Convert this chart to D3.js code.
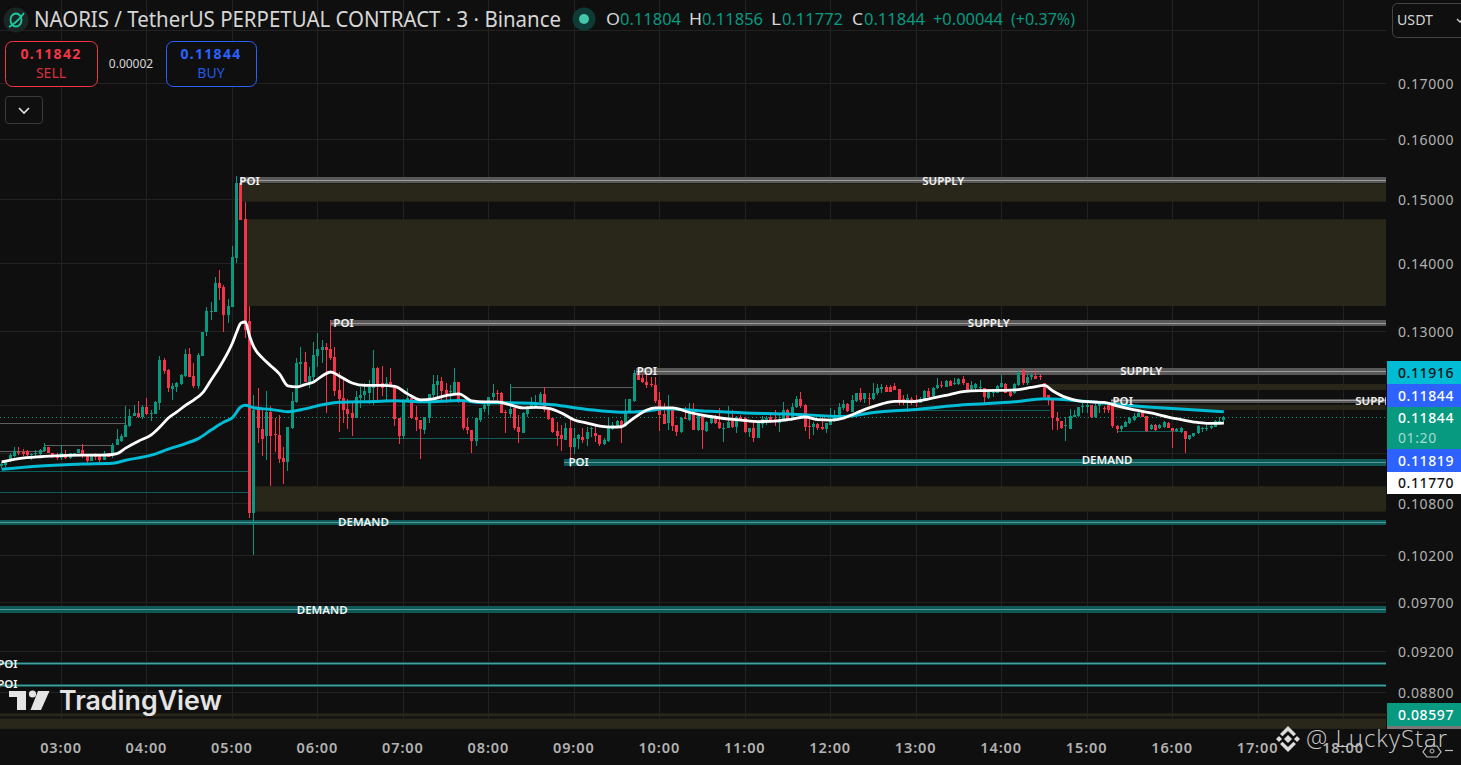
<!DOCTYPE html>
<html><head><meta charset="utf-8">
<script src="https://cdn.jsdelivr.net/npm/d3@7/dist/d3.min.js"></script>
<style>
html,body{margin:0;padding:0;background:#0f0f0f;overflow:hidden}
svg{display:block}
text{font-family:"Noto Sans",sans-serif}
</style></head><body>
<svg id="chart" width="1461" height="765"></svg>
<script>
// ---------- candle values (3 minute bars starting 02:18) ----------
const opens=[.11233,.11245,.11294,.11359,.11409,.11409,.11414,.11376,.11389,.11380,
.11421,.11463,.11401,.11376,.11331,.11380,.11335,.11389,.11389,.11438,
.11359,.11298,.11364,.11364,.11315,.11389,.11356,.11496,.11546,.11596,
.11731,.11860,.11895,.11843,.11974,.11890,.11886,.12034,.12601,.12465,
.12208,.12243,.12274,.12385,.12684,.12385,.12252,.12660,.12984,.13272,
.13272,.13695,.13636,.13229,.13348,.14069,.15258,.14671,.13143,.10683,
.11938,.11693,.11605,.11912,.11630,.11617,.11331,.11282,.11706,.12043,
.12547,.12574,.12305,.12371,.12656,.12738,.12780,.12752,.12642,.12199,
.12095,.11952,.11899,.11834,.12095,.12134,.12160,.12225,.12492,.12291,
.12278,.12305,.12265,.11834,.11605,.12043,.12095,.11847,.11808,.11681,
.11834,.12134,.12265,.12318,.12199,.12173,.12160,.12305,.12043,.11719,
.11681,.11542,.11808,.11952,.11991,.12108,.12160,.12160,.11912,.11886,
.11965,.11719,.11642,.11886,.11978,.11991,.12043,.12147,.11952,.11834,
.11668,.11617,.11555,.11706,.11467,.11567,.11592,.11567,.11693,.11642,
.11617,.11505,.11542,.11693,.11719,.11795,.11731,.11899,.12056,.12425,
.12358,.12305,.12278,.12265,.12069,.11886,.11770,.11965,.11744,.11655,
.11834,.11808,.11925,.11681,.11873,.11668,.11770,.11821,.11783,.11700,
.11706,.11795,.11719,.11847,.11834,.11655,.11706,.11580,.11757,.11808,
.11847,.11821,.11770,.11808,.11938,.11821,.11978,.12082,.12004,.11731,
.11719,.11757,.11719,.11693,.11744,.11808,.11873,.11965,.12017,.11912,
.12056,.12160,.12082,.12095,.12082,.12160,.12212,.12239,.12239,.12252,
.12212,.12082,.12030,.12082,.12069,.12030,.12082,.12186,.12121,.12225,
.12265,.12239,.12318,.12278,.12278,.12344,.12291,.12212,.12225,.12225,
.12225,.12095,.12160,.12160,.12239,.12278,.12173,.12160,.12265,.12465,
.12291,.12371,.12385,.12385,.12291,.12134,.12095,.11834,.11795,.11731,
.11693,.11847,.11860,.11978,.11978,.12004,.11847,.11991,.11965,.12004,
.12004,.11731,.11693,.11719,.11770,.11808,.11847,.11912,.11860,.11693,
.11744,.11706,.11719,.11770,.11706,.11668,.11655,.11668,.11567,.11605,
.11642,.11693,.11693,.11706,.11719,.11783,.11804];
const highs=[.11290,.11315,.11396,.11463,.11463,.11446,.11430,.11389,.11430,.11446,
.11514,.11463,.11401,.11389,.11488,.11438,.11389,.11396,.11442,.11505,
.11376,.11364,.11389,.11364,.11421,.11389,.11521,.11690,.11630,.11991,
.11948,.12004,.12056,.12004,.12091,.11938,.12056,.12656,.12625,.12474,
.12287,.12309,.12407,.12748,.12762,.12556,.12693,.12988,.13348,.13416,
.13788,.13888,.13665,.13460,.14253,.15374,.15258,.14948,.13358,.12134,
.12225,.11965,.12186,.11991,.11834,.11873,.11467,.11719,.12173,.12629,
.12780,.12711,.12506,.12848,.12974,.12876,.12835,.13158,.12780,.12438,
.12371,.12082,.12030,.12186,.12239,.12291,.12331,.12738,.12506,.12520,
.12371,.12492,.12265,.11834,.12082,.12225,.12095,.11991,.11808,.11847,
.12147,.12398,.12398,.12371,.12291,.12265,.12492,.12305,.12043,.11834,
.11681,.11834,.11965,.12030,.12108,.12278,.12199,.12173,.11938,.12278,
.11965,.11873,.11912,.11991,.12108,.12134,.12173,.12239,.11952,.11834,
.11783,.11744,.11770,.11821,.11706,.11630,.11706,.11719,.11719,.11731,
.11617,.11580,.11834,.11783,.11808,.11808,.12082,.12082,.12465,.12492,
.12425,.12398,.12371,.12371,.12173,.12030,.12134,.11978,.11744,.11847,
.11978,.12030,.12030,.11873,.11873,.11795,.11873,.11873,.11965,.11770,
.11991,.11938,.11860,.11873,.11847,.11706,.11795,.11770,.11860,.11860,
.11912,.11938,.11873,.12043,.11952,.12030,.12121,.12173,.12017,.11847,
.11783,.11770,.11847,.11770,.11965,.11938,.12030,.12069,.12030,.12134,
.12160,.12225,.12160,.12160,.12291,.12278,.12278,.12265,.12265,.12291,
.12212,.12134,.12147,.12108,.12134,.12108,.12199,.12225,.12239,.12358,
.12318,.12331,.12331,.12358,.12358,.12385,.12291,.12318,.12291,.12331,
.12225,.12173,.12199,.12265,.12398,.12291,.12186,.12291,.12465,.12479,
.12425,.12425,.12465,.12412,.12291,.12134,.12095,.11912,.11795,.11847,
.11952,.11938,.11978,.12043,.12069,.12004,.12030,.12030,.11991,.12030,
.12004,.11744,.11744,.11795,.11847,.11899,.11912,.11938,.11860,.11757,
.11757,.11757,.11795,.11783,.11706,.11706,.11719,.11668,.11617,.11642,
.11744,.11719,.11744,.11744,.11808,.11847,.11856];
const lows=[.11217,.11225,.11285,.11347,.11368,.11356,.11356,.11315,.11347,.11368,
.11409,.11389,.11339,.11315,.11315,.11327,.11327,.11389,.11389,.11339,
.11257,.11298,.11315,.11257,.11306,.11347,.11339,.11488,.11534,.11589,
.11715,.11860,.11830,.11825,.11877,.11799,.11882,.11938,.12412,.12177,
.12069,.12177,.12265,.12367,.12367,.12221,.12216,.12656,.12932,.13158,
.13272,.13445,.12988,.13115,.13340,.13998,.14660,.12904,.10625,.10205,
.11517,.11356,.11306,.10992,.11405,.11270,.11016,.11172,.11693,.12030,
.12252,.12305,.12225,.12305,.12506,.12561,.11899,.12601,.12121,.11655,
.11770,.11693,.11605,.11834,.11965,.12069,.12017,.12004,.12056,.12121,
.12069,.12239,.11731,.11505,.11567,.12043,.11821,.11668,.11319,.11630,
.11770,.12108,.12108,.12069,.12030,.12069,.12160,.12030,.11681,.11630,
.11393,.11480,.11783,.11912,.11873,.12069,.12069,.11899,.11642,.11834,
.11681,.11517,.11642,.11847,.11965,.11965,.12030,.11912,.11808,.11642,
.11480,.11417,.11555,.11221,.11380,.11442,.11517,.11480,.11592,.11530,
.11480,.11492,.11530,.11681,.11706,.11517,.11719,.11899,.12043,.12331,
.12291,.12225,.12239,.12030,.11668,.11757,.11681,.11668,.11605,.11642,
.11821,.11795,.11681,.11668,.11442,.11655,.11757,.11757,.11693,.11530,
.11706,.11706,.11642,.11795,.11642,.11592,.11530,.11580,.11706,.11744,
.11770,.11731,.11655,.11795,.11821,.11808,.11965,.11965,.11668,.11567,
.11617,.11681,.11681,.11642,.11744,.11783,.11873,.11938,.11912,.11912,
.12043,.12043,.12030,.12004,.12069,.12134,.12160,.12173,.12173,.12199,
.12004,.12004,.11912,.12004,.11978,.12030,.12069,.12108,.12108,.12212,
.12225,.12239,.12252,.12265,.12265,.12265,.12173,.12199,.12199,.12199,
.12030,.12082,.12108,.12160,.12225,.12160,.12108,.12147,.12252,.12265,
.12265,.12331,.12344,.12331,.12095,.12004,.11681,.11681,.11693,.11542,
.11693,.11847,.11847,.11899,.11899,.11834,.11834,.11899,.11899,.11899,
.11706,.11642,.11655,.11719,.11757,.11795,.11847,.11847,.11655,.11681,
.11668,.11693,.11706,.11706,.11455,.11655,.11642,.11393,.11555,.11592,
.11630,.11655,.11668,.11693,.11719,.11770,.11772];
const closes=[.11266,.11298,.11368,.11417,.11389,.11380,.11368,.11384,.11396,.11438,
.11463,.11389,.11356,.11335,.11389,.11339,.11389,.11396,.11442,.11356,
.11298,.11364,.11347,.11315,.11389,.11347,.11496,.11567,.11605,.11748,
.11860,.11895,.11843,.11974,.11886,.11895,.12043,.12601,.12452,.12230,
.12252,.12295,.12398,.12684,.12375,.12252,.12670,.12984,.13291,.13287,
.13699,.13625,.13229,.13358,.14080,.15253,.14660,.13016,.10683,.11938,
.11706,.11567,.11912,.11605,.11623,.11319,.11282,.11719,.12056,.12561,
.12574,.12305,.12385,.12670,.12752,.12780,.12738,.12629,.12186,.12082,
.11938,.11886,.11834,.12108,.12134,.12186,.12239,.12492,.12278,.12225,
.12291,.12239,.11821,.11605,.12069,.12095,.11834,.11808,.11693,.11847,
.12147,.12278,.12318,.12186,.12147,.12186,.12305,.12043,.11706,.11681,
.11542,.11834,.11965,.12004,.12108,.12160,.12153,.11899,.11899,.11952,
.11706,.11655,.11899,.11978,.12017,.12043,.12147,.11938,.11821,.11655,
.11605,.11567,.11706,.11467,.11580,.11617,.11555,.11655,.11706,.11605,
.11505,.11555,.11706,.11744,.11795,.11719,.11912,.12082,.12425,.12331,
.12305,.12265,.12265,.12056,.11873,.11757,.11938,.11731,.11655,.11834,
.11828,.11912,.11681,.11873,.11681,.11783,.11834,.11770,.11706,.11706,
.11783,.11719,.11847,.11808,.11655,.11706,.11580,.11770,.11821,.11834,
.11795,.11808,.11821,.11938,.11821,.11978,.12082,.11991,.11719,.11719,
.11757,.11706,.11693,.11770,.11821,.11873,.11978,.12017,.11925,.12069,
.12160,.12069,.12160,.12088,.12160,.12225,.12239,.12173,.12173,.12199,
.12056,.12030,.12095,.12030,.12030,.12082,.12186,.12108,.12225,.12265,
.12258,.12318,.12252,.12291,.12344,.12291,.12199,.12265,.12278,.12239,
.12108,.12173,.12173,.12252,.12291,.12160,.12121,.12278,.12425,.12291,
.12371,.12398,.12344,.12371,.12108,.12069,.11834,.11795,.11706,.11744,
.11860,.11873,.11978,.11991,.12004,.11847,.11991,.12017,.11952,.11938,
.11731,.11693,.11731,.11783,.11834,.11860,.11899,.11847,.11668,.11744,
.11681,.11744,.11783,.11706,.11668,.11693,.11706,.11567,.11617,.11642,
.11731,.11706,.11706,.11731,.11795,.11795,.11844];

// ---------- moving averages, read at selected candle numbers ----------
const whiteAtCandle=[1,5,10,15,20,25,28,30,33,36,38,40,42,44,46,48,50,52,54,55,56,57,58,59,60,62,64,66,68,70,72,74,76,78,80,83,86,90,93,96,99,102,105,108,111,114,117,120,123,126,129,132,135,138,141,144,146,148,150,152,154,158,162,166,170,174,178,182,186,189,192,195,198,201,204,207,210,214,218,222,226,230,234,238,242,245,247,250,253,256,259,262,265,268,271,274,277,280,283,287];
const whiteValues=[.11285,.11325,.11349,.11362,.11368,.11368,.11386,.11455,.11542,.11620,.11719,.11834,.11912,.11997,.12069,.12160,.12331,.12506,.12711,.12835,.12988,.13115,.13129,.12932,.12780,.12629,.12520,.12412,.12252,.12239,.12270,.12305,.12385,.12438,.12385,.12291,.12258,.12258,.12245,.12147,.12069,.12082,.12125,.12147,.12056,.12043,.12043,.12004,.11965,.11972,.11958,.11899,.11808,.11770,.11731,.11719,.11723,.11795,.11873,.11938,.11965,.11965,.11905,.11860,.11828,.11808,.11789,.11795,.11821,.11847,.11814,.11808,.11834,.11899,.11965,.12017,.12049,.12047,.12082,.12127,.12177,.12190,.12192,.12199,.12232,.12258,.12186,.12101,.12056,.12043,.12036,.11991,.11952,.11918,.11886,.11847,.11814,.11783,.11766,.11770];
const blueAtCandle=[1,10,20,27,30,36,40,44,47,50,53,55,57,58,60,64,68,72,76,80,88,93,100,108,114,120,130,138,146,152,156,165,175,185,198,205,215,226,238,245,255,265,275,287];
const blueValues=[.11196,.11236,.11261,.11270,.11306,.11368,.11442,.11511,.11574,.11681,.11783,.11840,.11978,.11997,.11965,.11945,.11916,.11952,.12004,.12036,.12047,.12056,.12043,.12059,.12030,.12030,.12004,.11945,.11909,.11925,.11952,.11925,.11899,.11886,.11854,.11905,.11945,.12004,.12043,.12082,.12047,.11995,.11955,.11916];

// ---------- axes ----------
const hourTicks=["03:00","04:00","05:00","06:00","07:00","08:00","09:00","10:00","11:00","12:00","13:00","14:00","15:00","16:00","17:00","18:00"];
const priceTicks=[.17,.16,.15,.14,.13,.108,.102,.097,.092,.088];
const gridPrices=[.18,.17,.16,.15,.14,.13,.12,.114,.108,.102,.097,.092,.088];

// ---------- zones: [top price, bottom price, start time] ----------
const oliveZones=[[.15253,.14953,"05:06"],[.14671,.13358,"05:09"],[.10992,.10695,"05:16"],[.12278,.12199,"14:29"],[.12004,.11938,"15:15"],[.08599,.08569,"00:00"],[.08552,.08456,"00:00"]];
const supplyBands=[[.15361,.15253,"05:05"],[.13151,.13066,"06:09"],[.12492,.12398,"09:43"],[.12082,.12026,"15:17"]];
const demandBands=[[.11327,.11233,"08:53"],[.10599,.10542,"00:00"],[.09653,.09585,"00:00"],[.09088,.09061,"00:00"],[.08877,.08853,"00:00"]];
// [price, start, end, colour kind]
const thinLevels=[[.11766,"00:00","03:45","g"],[.11496,"02:48","03:35","g"],[.11414,"00:00","02:48","g"],[.11180,"00:00","05:11","t"],[.10925,"00:00","05:11","t"],[.11576,"06:15","08:52","t"],[.12235,"08:15","09:41","g"],[.11932,"13:00","14:34","t"],[.11668,"15:21","16:06","t"]];
const zoneLabels=[["POI","05:12",.1530],["SUPPLY","13:19",.1530],["POI","06:18",.1311],["SUPPLY","13:51",.1311],["POI","09:51",.1245],["SUPPLY","15:38",.1245],["POI","15:25",.12056],["SUPPLY","18:23",.12056],["POI","09:03",.1129],["DEMAND","15:14",.1131],["DEMAND","06:32",.1058],["DEMAND","06:03",.0962],["POI","02:22",.09075],["POI","02:22",.08877]];

const sideLabels=[["0.11916",361,384,"#00bcd4","#0f0f0f"],["0.11844",384,407,"#2e62ff","#fff"],["0.11844",407,449,"#089981","#fff"],["0.11819",449,472,"#2e62ff","#fff"],["0.11770",472,494,"#ffffff","#131313"],["0.08597",703,726,"#089981","#fff"]];

const lastPrice=.11844;

// ---------- layout ----------
const plotW=1386, plotB=729;
const svg=d3.select("#chart");
svg.append("rect").attr("width",1461).attr("height",765).attr("fill","#0f0f0f");
const T=s=>{const [h,m]=s.split(":").map(Number);return new Date(Date.UTC(2025,0,1,h,m));};
const x=d3.scaleUtc().domain([T("03:00"),T("18:00")]).range([61.5,1343.5]);
const y=d3.scaleLog().domain([.17,.088]).range([83,692]);
const candleTime=i=>new Date(T("02:18").getTime()+i*180000);
const candles=opens.map((o,i)=>({t:candleTime(i),o,h:highs[i],l:lows[i],c:closes[i]}));

const defs=svg.append("defs");
defs.append("clipPath").attr("id","plot").append("rect").attr("width",plotW).attr("height",plotB);

// grid
const grid=svg.append("g").attr("stroke","#222222").attr("stroke-width",1).attr("shape-rendering","crispEdges");
grid.selectAll("line.v").data(hourTicks).join("line").attr("x1",d=>Math.floor(x(T(d)))+.5).attr("x2",d=>Math.floor(x(T(d)))+.5).attr("y1",0).attr("y2",plotB);
grid.selectAll("line.h").data(gridPrices).join("line").attr("x1",0).attr("x2",plotW).attr("y1",d=>Math.round(y(d))+.5).attr("y2",d=>Math.round(y(d))+.5);

const plot=svg.append("g").attr("clip-path","url(#plot)");
const endT=T("18:40");
// olive zones
plot.append("g").selectAll("rect").data(oliveZones).join("rect")
 .attr("x",d=>x(T(d[2]))).attr("width",d=>x(endT)-x(T(d[2])))
 .attr("y",d=>y(d[0])).attr("height",d=>y(d[1])-y(d[0])).attr("fill","#29261a");
// thin levels
plot.append("g").attr("shape-rendering","crispEdges").selectAll("line").data(thinLevels).join("line")
 .attr("x1",d=>x(T(d[1]))).attr("x2",d=>x(T(d[2])))
 .attr("y1",d=>Math.round(y(d[0]))+.5).attr("y2",d=>Math.round(y(d[0]))+.5)
 .attr("stroke",d=>d[3]==="g"?"#5e5e5e":"#0d5f5c").attr("stroke-width",1);
// last price dotted line
plot.append("line").attr("x1",0).attr("x2",plotW).attr("y1",Math.round(y(lastPrice))+.5).attr("y2",Math.round(y(lastPrice))+.5)
 .attr("stroke","#089981").attr("stroke-dasharray","1 3").attr("stroke-width",1);

// bands with centre line
function bands(data,fill,line){
 const g=plot.append("g").attr("shape-rendering","crispEdges");
 g.selectAll("rect").data(data).join("rect")
  .attr("x",d=>x(T(d[2]))).attr("width",d=>x(endT)-x(T(d[2])))
  .attr("y",d=>y(d[0])).attr("height",d=>Math.max(3,y(d[1])-y(d[0]))).attr("fill",fill);
 g.selectAll("line").data(data).join("line")
  .attr("x1",d=>x(T(d[2]))).attr("x2",x(endT))
  .attr("y1",d=>Math.floor((y(d[0])+y(d[1]))/2)+.5).attr("y2",d=>Math.floor((y(d[0])+y(d[1]))/2)+.5)
  .attr("stroke",line).attr("stroke-width",1);
}
bands(supplyBands,"#585858","#9c9c9c");
bands(demandBands,"#0f5a58","#4f9a97");

// candles
const up=d=>d.c>=d.o, col=d=>up(d)?"#089981":"#f7334a";
const cg=plot.append("g").attr("shape-rendering","crispEdges");
cg.selectAll("rect.w").data(candles).join("rect").attr("class","w")
 .attr("x",d=>Math.floor(x(d.t))).attr("width",1)
 .attr("y",d=>y(d.h)).attr("height",d=>Math.max(1,y(d.l)-y(d.h))).attr("fill",col);
cg.selectAll("rect.b").data(candles).join("rect").attr("class","b")
 .attr("x",d=>Math.floor(x(d.t))-1).attr("width",3)
 .attr("y",d=>y(Math.max(d.o,d.c))).attr("height",d=>Math.max(1,Math.abs(y(d.o)-y(d.c)))).attr("fill",col);

// moving averages
const line=d3.line().x(d=>x(candleTime(d[0]-1))).y(d=>y(d[1])).curve(d3.curveMonotoneX);
plot.append("path").attr("d",line(blueAtCandle.map((k,i)=>[k,blueValues[i]]))).attr("fill","none").attr("stroke","#00bcd4").attr("stroke-width",3);
plot.append("path").attr("d",line(whiteAtCandle.map((k,i)=>[k,whiteValues[i]]))).attr("fill","none").attr("stroke","#ffffff").attr("stroke-width",2.8);

// zone labels
plot.append("g").selectAll("text").data(zoneLabels).join("text")
 .attr("x",d=>x(T(d[1]))).attr("y",d=>y(d[2])).attr("dy","0.36em")
 .attr("text-anchor","middle").attr("fill","#f2f2f2").attr("font-size",11.5).attr("font-weight",600).text(d=>d[0]);

// TradingView logo
const tv=svg.append("g").attr("fill","#e4e4e4");
tv.append("path").attr("d","M9 691H26V710H17V697H9Z");
tv.append("circle").attr("cx",32.5).attr("cy",694).attr("r",3.6);
tv.append("path").attr("d","M38 691H49.5L41 710H30.5Z");
tv.append("text").attr("x",59).attr("y",710).attr("font-size",27).attr("font-weight",600).attr("style","font-family:Inter").attr("textLength",163).attr("lengthAdjust","spacingAndGlyphs").text("TradingView");

// axes
const axisX=svg.append("g").attr("transform","translate(0,737)").call(d3.axisBottom(x).tickValues(hourTicks.map(T)).tickFormat(d3.utcFormat("%H:%M")).tickSize(0));
axisX.select(".domain").remove();
axisX.selectAll("text").attr("fill","#b2b2b2").attr("font-size",14.5).attr("font-weight",600).attr("dy","0.9em").attr("dx","-1").attr("letter-spacing","0.9").style("font-family",'"Noto Sans"');

svg.append("rect").attr("x",plotW).attr("y",0).attr("width",75).attr("height",plotB).attr("fill","#0f0f0f");
const axisY=svg.append("g").attr("transform","translate(1398,1)").call(d3.axisRight(y).tickValues(priceTicks).tickFormat(d3.format(".5f")).tickSize(0).tickPadding(0));
axisY.select(".domain").remove();
axisY.selectAll("text").attr("fill","#b2b2b2").attr("font-size",14).attr("letter-spacing","0.6").style("font-family",'"Noto Sans"');

// right-side price boxes
const side=svg.append("g");
side.selectAll("rect").data(sideLabels).join("rect").attr("x",1387).attr("width",74)
 .attr("y",d=>d[1]).attr("height",d=>d[2]-d[1]).attr("fill",d=>d[3]);
side.selectAll("text").data(sideLabels).join("text").attr("x",1398)
 .attr("y",d=>d[2]-d[1]>30?d[1]+11:(d[1]+d[2])/2).attr("dy","0.36em")
 .attr("fill",d=>d[4]).attr("font-size",14).attr("font-weight",500).attr("letter-spacing","0.6").text(d=>d[0]);
svg.append("text").attr("x",1398).attr("y",438).attr("dy","0.36em").attr("fill","#a5dccf").attr("font-size",14).attr("letter-spacing","0.6").text("01:20");
svg.append("rect").attr("x",1387).attr("y",726).attr("width",74).attr("height",3).attr("fill","#777");

// header
const hdr=svg.append("g");
hdr.append("circle").attr("cx",16).attr("cy",20).attr("r",12.5).attr("fill","#1b2624");
hdr.append("ellipse").attr("cx",16).attr("cy",20).attr("rx",5.5).attr("ry",6.5).attr("fill","none").attr("stroke","#1fc9a0").attr("stroke-width",1.8);
hdr.append("path").attr("d","M9 27C13 25 20 19 24 13").attr("fill","none").attr("stroke","#1fc9a0").attr("stroke-width",1.8);
hdr.append("text").attr("x",34).attr("y",27).attr("fill","#d6d6d6").attr("font-size",21).attr("textLength",527).attr("lengthAdjust","spacingAndGlyphs").text("NAORIS / TetherUS PERPETUAL CONTRACT · 3 · Binance");
hdr.append("circle").attr("cx",584).attr("cy",19).attr("r",11.5).attr("fill","#0f3a35");
hdr.append("circle").attr("cx",584).attr("cy",19).attr("r",5).attr("fill","#43c6aa");
const ohlc=[["O",606,"#d6d6d6",14],["0.11804",620,"#089981",61],["H",689,"#d6d6d6",13],["0.11856",702,"#089981",61],["L",771,"#d6d6d6",10],["0.11772",782,"#089981",61],["C",852,"#d6d6d6",11],["0.11844",864,"#089981",61],["+0.00044",933,"#089981",70],["(+0.37%)",1011,"#089981",64]];
hdr.selectAll("text.o").data(ohlc).join("text").attr("class","o").attr("x",d=>d[1]).attr("y",25).attr("fill",d=>d[2]).attr("font-size",16).attr("textLength",d=>d[3]).attr("lengthAdjust","spacingAndGlyphs").text(d=>d[0]);

// buy / sell boxes
const boxes=[[5,92,"#f23645","0.11842","SELL"],[166,90,"#2962ff","0.11844","BUY"]];
boxes.forEach(b=>{
 hdr.append("rect").attr("x",b[0]+.5).attr("y",41.5).attr("width",b[1]).attr("height",45).attr("rx",7).attr("fill","#0f0f0f").attr("stroke",b[2]);
 hdr.append("text").attr("x",b[0]+b[1]/2).attr("y",59).attr("text-anchor","middle").attr("fill",b[2]).attr("font-size",14).attr("font-weight",700).attr("letter-spacing","1.3").text(b[3]);
 hdr.append("text").attr("x",b[0]+b[1]/2).attr("y",78).attr("text-anchor","middle").attr("fill",b[2]).attr("opacity",.88).attr("font-size",14).text(b[4]);
});
hdr.append("text").attr("x",131).attr("y",68).attr("text-anchor","middle").attr("fill","#d6d6d6").attr("font-size",12).text("0.00002");
hdr.append("rect").attr("x",5.5).attr("y",96.5).attr("width",37).attr("height",27).attr("rx",3).attr("fill","#0f0f0f").attr("stroke","#3a3a3a");
hdr.append("path").attr("d","M19 108L24 113L29 108").attr("fill","none").attr("stroke","#e6e6e6").attr("stroke-width",1.6);
// currency selector
hdr.append("rect").attr("x",1392.5).attr("y",3.5).attr("width",80).attr("height",34).attr("rx",5).attr("fill","#0f0f0f").attr("stroke","#444");
hdr.append("text").attr("x",1397).attr("y",25).attr("fill","#d6d6d6").attr("font-size",14).attr("textLength",36).attr("lengthAdjust","spacingAndGlyphs").text("USDT");
hdr.append("path").attr("d","M1457 19L1460 22L1463 19").attr("fill","none").attr("stroke","#d6d6d6").attr("stroke-width",1.3);

// watermark
const wm=svg.append("g");
wm.append("g").attr("transform","translate(1288,739)").attr("fill","#dcdcdc").selectAll("path")
 .data(["M0 -4L4 0L0 4L-4 0Z","M-9 -3L-6 0L-9 3L-12 0Z","M9 -3L12 0L9 3L6 0Z","M0 -13L8 -5L5.5 -2.7L0 -8L-5.5 -2.7L-8 -5Z","M0 13L8 5L5.5 2.7L0 8L-5.5 2.7L-8 5Z"]).join("path").attr("d",d=>d);
wm.append("text").attr("x",1306).attr("y",747).attr("fill","#c9c9c9").attr("font-size",24).attr("font-weight",300).attr("letter-spacing","1").attr("style","font-family:'Open Sans'").text("@ LuckyStar");
wm.append("path").attr("d","M1427 746H1437L1441 752L1437 757H1427L1423 752Z").attr("fill","none").attr("stroke","#bdbdbd").attr("stroke-width",1.2);
wm.append("circle").attr("cx",1432).attr("cy",751).attr("r",2).attr("fill","none").attr("stroke","#bdbdbd");
wm.append("path").attr("d","M1445 750.5H1453").attr("stroke","#bdbdbd").attr("stroke-width",1.2);
</script>
</body></html>
